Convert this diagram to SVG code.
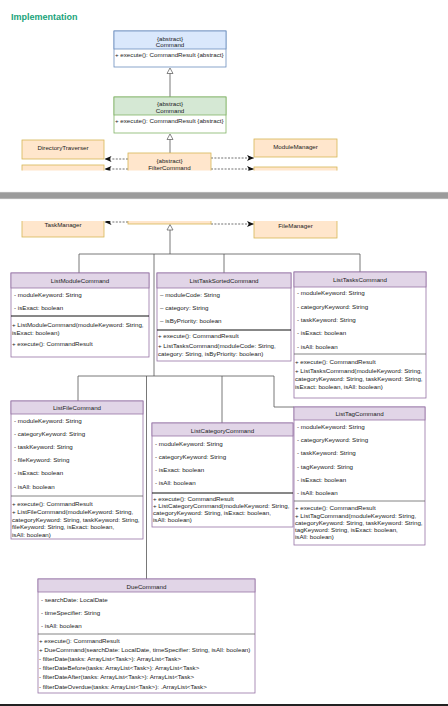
<svg xmlns="http://www.w3.org/2000/svg" width="448" height="706" viewBox="0 0 448 706">
<style>
.t{font-family:"Liberation Sans",Arial,Helvetica,sans-serif;font-size:6.2px;fill:#222}
.c{text-anchor:middle}
.ttl{font-family:"Liberation Sans",Arial,sans-serif;font-size:9px;font-weight:bold;fill:#1aa37a}
.body{fill:#fff;stroke:#9673a6;stroke-width:0.8}
.hdr{fill:#e1d5e7;stroke:#9673a6;stroke-width:0.8}
.dv{stroke:#666;stroke-width:0.8}
.dk{stroke:#111;stroke-width:1}
.or{fill:#ffe6cc;stroke:#d6b656;stroke-width:0.8}
.ln{fill:none;stroke:#555;stroke-width:0.8}
.dash{fill:none;stroke:#333;stroke-width:0.7;stroke-dasharray:2 1.4}
.tri{fill:#fff;stroke:#555;stroke-width:0.7}
</style>
<defs>
<clipPath id="p1"><rect x="0" y="0" width="448" height="170.5"/></clipPath>
<clipPath id="p2"><rect x="0" y="221" width="448" height="485"/></clipPath>
<marker id="arr" markerUnits="userSpaceOnUse" markerWidth="8" markerHeight="7" refX="7" refY="3" orient="auto">
<path d="M0,0 L7,3 L0,6 L1.8,3 Z" fill="#111"/>
</marker>
</defs>
<rect x="0" y="0" width="448" height="706" fill="#fff"/>
<text class="ttl" x="11" y="19.5">Implementation</text>

<!-- page break bar -->
<rect x="0" y="192" width="448" height="7" fill="#9b9b9b"/>
<line x1="0" y1="192.3" x2="448" y2="192.3" stroke="#cfcfcf" stroke-width="0.6"/>
<line x1="0" y1="198.7" x2="448" y2="198.7" stroke="#cfcfcf" stroke-width="0.6"/>
<rect x="0" y="704" width="448" height="2" fill="#222"/>

<g id="connectors">
<g clip-path="url(#p1)">
<polygon class="tri" points="170,68 167,73.5 173,73.5"/>
<line class="ln" x1="170" y1="73.5" x2="170" y2="97"/>
<polygon class="tri" points="170,134 167,139.5 173,139.5"/>
<line class="ln" x1="170" y1="139.5" x2="170" y2="153"/>
<line class="dash" x1="128" y1="159" x2="104.5" y2="159" marker-end="url(#arr)"/>
<line class="dash" x1="128" y1="169" x2="104.5" y2="169" marker-end="url(#arr)"/>
<line class="dash" x1="211" y1="158" x2="254" y2="158" marker-end="url(#arr)"/>
<line class="dash" x1="211" y1="169" x2="254" y2="169" marker-end="url(#arr)"/>
</g>
<g clip-path="url(#p2)">
<line class="dash" x1="128" y1="222" x2="104.5" y2="222" marker-end="url(#arr)"/>
<line class="dash" x1="211" y1="224" x2="254" y2="224" marker-end="url(#arr)"/>
<polygon class="tri" points="170,224.5 167,230 173,230"/>
</g>
<path class="ln" d="M170,230 V254 M79,274 V254 H360 V272 M154,254 V376 M224,254 V273"/>
<path class="ln" d="M78,401 V376 H274 V407 H294 M146.5,376 V579 M222,376 V423"/>
</g>

<g id="Command">
<rect x="114" y="31" width="112" height="36" fill="#fff" stroke="#6c8ebf" stroke-width="0.8"/>
<rect x="114" y="31" width="112" height="18" fill="#dae8fc" stroke="#6c8ebf" stroke-width="0.8"/>
<text class="t c" x="170" y="40.5">{abstract}</text>
<text class="t c" x="170" y="47">Command</text>
<text class="t" x="115" y="56.5">+ execute(): CommandResult {abstract}</text>
</g>

<g id="Command2">
<rect x="114" y="97" width="112" height="36" fill="#fff" stroke="#82b366" stroke-width="0.8"/>
<rect x="114" y="97" width="112" height="18" fill="#d5e8d4" stroke="#82b366" stroke-width="0.8"/>
<text class="t c" x="170" y="105.5">{abstract}</text>
<text class="t c" x="170" y="112.5">Command</text>
<text class="t" x="115" y="122.5">+ execute(): CommandResult {abstract}</text>
</g>

<g id="FilterCommand">
<g clip-path="url(#p1)">
<rect class="or" x="128" y="153" width="83" height="25"/>
<text class="t c" x="169.5" y="162.5">{abstract}</text>
<text class="t c" x="169.5" y="169.8">FilterCommand</text>
</g>
<g clip-path="url(#p2)">
<rect class="or" x="128" y="200" width="83" height="24"/>
</g>
</g>

<g id="DirectoryTraverser">
<rect class="or" x="22" y="140" width="82" height="19"/>
<text class="t c" x="63" y="149.5">DirectoryTraverser</text>
</g>

<g id="TaskManager">
<rect class="or" x="22" y="165" width="82" height="20" clip-path="url(#p1)"/>
<g clip-path="url(#p2)">
<rect class="or" x="22" y="216" width="82" height="21"/>
<text class="t c" x="63" y="226.5">TaskManager</text>
</g>
</g>

<g id="ModuleManager">
<rect class="or" x="254" y="139" width="83" height="18"/>
<text class="t c" x="295.5" y="148.5">ModuleManager</text>
</g>

<g id="FileManager">
<rect class="or" x="254" y="167" width="83" height="20" clip-path="url(#p1)"/>
<g clip-path="url(#p2)">
<rect class="or" x="254" y="218" width="83" height="20"/>
<text class="t c" x="295.5" y="227.5">FileManager</text>
</g>
</g>

<g id="ListModuleCommand">
<rect class="body" x="11" y="273" width="138" height="84"/>
<rect class="hdr" x="11" y="273" width="138" height="15"/>
<text class="t c" x="80" y="283">ListModuleCommand</text>
<text class="t" x="14" y="297">- moduleKeyword: String</text>
<text class="t" x="14" y="310">- isExact: boolean</text>
<line class="dk" x1="11" y1="316" x2="149" y2="316"/>
<text class="t" x="12" y="327">+ ListModuleCommand(moduleKeyword: String,</text>
<text class="t" x="12" y="335">isExact: boolean)</text>
<text class="t" x="12" y="346">+ execute(): CommandResult</text>
</g>

<g id="ListTaskSortedCommand">
<rect class="body" x="157" y="273" width="134" height="88"/>
<rect class="hdr" x="157" y="273" width="134" height="15"/>
<text class="t c" x="224" y="283">ListTaskSortedCommand</text>
<text class="t" x="160" y="297">– moduleCode: String</text>
<text class="t" x="160" y="310">– category: String</text>
<text class="t" x="160" y="323">– isByPriority: boolean</text>
<line class="dk" x1="157" y1="330" x2="291" y2="330"/>
<text class="t" x="158" y="338">+ execute(): CommandResult</text>
<text class="t" x="158" y="348">+ ListTasksCommand(moduleCode: String,</text>
<text class="t" x="158" y="355.5">category: String, isByPriority: boolean)</text>
</g>

<g id="ListTasksCommand">
<rect class="body" x="294" y="272" width="132" height="126"/>
<rect class="hdr" x="294" y="272" width="132" height="15"/>
<text class="t c" x="360" y="282">ListTasksCommand</text>
<text class="t" x="297" y="295">- moduleKeyword: String</text>
<text class="t" x="297" y="308.5">- categoryKeyword: String</text>
<text class="t" x="297" y="321.5">- taskKeyword: String</text>
<text class="t" x="297" y="335">- isExact: boolean</text>
<text class="t" x="297" y="348.5">- isAll: boolean</text>
<line class="dv" x1="294" y1="354" x2="426" y2="354"/>
<text class="t" x="295" y="364">+ execute(): CommandResult</text>
<text class="t" x="295" y="372.5">+ ListTasksCommand(moduleKeyword: String,</text>
<text class="t" x="295" y="380.5">categoryKeyword: String, taskKeyword: String,</text>
<text class="t" x="295" y="388.5">isExact: boolean, isAll: boolean)</text>
</g>

<g id="ListFileCommand">
<rect class="body" x="11" y="401" width="132" height="138"/>
<rect class="hdr" x="11" y="401" width="132" height="13"/>
<text class="t c" x="77" y="410">ListFileCommand</text>
<text class="t" x="14" y="423">- moduleKeyword: String</text>
<text class="t" x="14" y="436">- categoryKeyword: String</text>
<text class="t" x="14" y="449">- taskKeyword: String</text>
<text class="t" x="14" y="462">- fileKeyword: String</text>
<text class="t" x="14" y="475">- isExact: boolean</text>
<text class="t" x="14" y="489">- isAll: boolean</text>
<line class="dv" x1="11" y1="496" x2="143" y2="496"/>
<text class="t" x="12" y="506">+ execute(): CommandResult</text>
<text class="t" x="12" y="514">+ ListFileCommand(moduleKeyword: String,</text>
<text class="t" x="12" y="521.5">categoryKeyword: String, taskKeyword: String,</text>
<text class="t" x="12" y="529">fileKeyword: String, isExact: boolean,</text>
<text class="t" x="12" y="536.5">isAll: boolean)</text>
</g>

<g id="ListCategoryCommand">
<rect class="body" x="152" y="423" width="141" height="104"/>
<rect class="hdr" x="152" y="423" width="141" height="13"/>
<text class="t c" x="222.5" y="432.5">ListCategoryCommand</text>
<text class="t" x="155" y="446">- moduleKeyword: String</text>
<text class="t" x="155" y="459">- categoryKeyword: String</text>
<text class="t" x="155" y="472">- isExact: boolean</text>
<text class="t" x="155" y="485">- isAll: boolean</text>
<line class="dk" x1="152" y1="493" x2="293" y2="493"/>
<text class="t" x="153" y="500.5">+ execute(): CommandResult</text>
<text class="t" x="153" y="508">+ ListCategoryCommand(moduleKeyword: String,</text>
<text class="t" x="153" y="515">categoryKeyword: String, isExact: boolean,</text>
<text class="t" x="153" y="522">isAll: boolean)</text>
</g>

<g id="ListTagCommand">
<rect class="body" x="294" y="407" width="131" height="138"/>
<rect class="hdr" x="294" y="407" width="131" height="13"/>
<text class="t c" x="359.5" y="416">ListTagCommand</text>
<text class="t" x="297" y="429">- moduleKeyword: String</text>
<text class="t" x="297" y="442">- categoryKeyword: String</text>
<text class="t" x="297" y="455">- taskKeyword: String</text>
<text class="t" x="297" y="469">- tagKeyword: String</text>
<text class="t" x="297" y="482">- isExact: boolean</text>
<text class="t" x="297" y="495">- isAll: boolean</text>
<line class="dv" x1="294" y1="501" x2="425" y2="501"/>
<text class="t" x="295" y="510">+ execute(): CommandResult</text>
<text class="t" x="295" y="518">+ ListTagCommand(moduleKeyword: String,</text>
<text class="t" x="295" y="525">categoryKeyword: String, taskKeyword: String,</text>
<text class="t" x="295" y="531.5">tagKeyword: String, isExact: boolean,</text>
<text class="t" x="295" y="538.5">isAll: boolean)</text>
</g>

<g id="DueCommand">
<rect class="body" x="38" y="579" width="217" height="114"/>
<rect class="hdr" x="38" y="579" width="217" height="13"/>
<text class="t c" x="146.5" y="588.5">DueCommand</text>
<text class="t" x="41" y="601.5">- searchDate: LocalDate</text>
<text class="t" x="41" y="615">- timeSpecifier: String</text>
<text class="t" x="41" y="628">- isAll: boolean</text>
<line class="dv" x1="38" y1="634" x2="255" y2="634"/>
<text class="t" x="39" y="643">+ execute(): CommandResult</text>
<text class="t" x="39" y="652">+ DueCommand(searchDate: LocalDate, timeSpecifier: String, isAll: boolean)</text>
<text class="t" x="39" y="661">- filterDate(tasks: ArrayList&lt;Task&gt;): ArrayList&lt;Task&gt;</text>
<text class="t" x="39" y="670">- filterDateBefore(tasks: ArrayList&lt;Task&gt;): ArrayList&lt;Task&gt;</text>
<text class="t" x="39" y="679">- filterDateAfter(tasks: ArrayList&lt;Task&gt;): ArrayList&lt;Task&gt;</text>
<text class="t" x="39" y="689">- filterDateOverdue(tasks: ArrayList&lt;Task&gt;): .ArrayList&lt;Task&gt;</text>
</g>
</svg>
